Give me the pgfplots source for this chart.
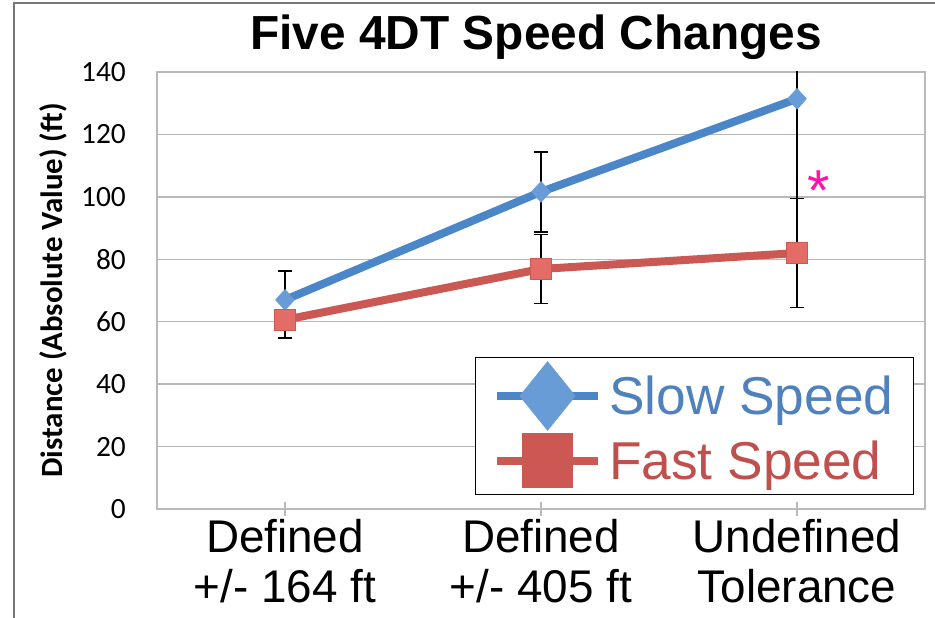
\documentclass[border=0pt]{standalone}
\usepackage{fontspec}
\setmainfont{Liberation Sans}
\newfontfamily\calibri{Carlito}
\usepackage{pgfplots}
\pgfplotsset{compat=1.18}
\definecolor{slowline}{RGB}{74,134,200}
\definecolor{slowfill}{RGB}{104,156,214}
\definecolor{slowtext}{RGB}{79,129,189}
\definecolor{fastline}{RGB}{203,88,82}
\definecolor{fastfill}{RGB}{228,108,102}
\definecolor{fasttext}{RGB}{192,80,77}
\definecolor{gridgray}{RGB}{185,185,185}
\definecolor{framegray}{RGB}{120,120,120}
\definecolor{starpink}{RGB}{255,20,170}
\begin{document}
\begin{tikzpicture}
\path[use as bounding box] (0,0) rectangle (935bp,618bp);
\draw[framegray, line width=1.2bp] (14bp,0) -- (14bp,615bp) -- (935bp,615bp);
\begin{axis}[
  at={(157bp,109bp)}, anchor=south west,
  scale only axis, width=768bp, height=437bp,
  xmin=-0.5, xmax=2.5, ymin=0, ymax=140,
  xtick={0,1,2},
  xticklabels={{Defined\\+/- 164 ft},{Defined\\+/- 405 ft},{Undefined\\Tolerance}},
  ytick={0,20,...,140},
  tick pos=left,
  axis line style={draw=gridgray, line width=1.5bp},
  ymajorgrids, grid style={draw=gridgray, line width=1.5bp},
  tick align=center, major tick length=14bp,
  xtick style={draw=gridgray, line width=1.2bp},
  ytick style={draw=none},
  /pgf/number format/assume math mode=true,
  yticklabel style={font=\calibri\fontsize{29.5}{29.5}\selectfont, inner sep=0pt, anchor=east},
  yticklabel shift=24bp,
  xticklabel style={font=\fontsize{46}{50}\selectfont, inner sep=0pt, align=center, anchor=north},
  xticklabel shift=3bp,
  ylabel={Distance (Absolute Value) (ft)},
  ylabel style={font=\calibri\bfseries\fontsize{31}{31}\selectfont, at={(axis description cs:-0.1224,0.5)}, rotate=0, anchor=base, inner sep=0pt},
  title={Five 4DT Speed Changes},
  title style={font=\bfseries\fontsize{48}{48}\selectfont, at={(axis description cs:0.5,1)}, anchor=base, yshift=17bp, xshift=-5bp, inner sep=0pt},
  clip=true,
  legend style={at={(rel axis cs:1,0)}, anchor=south east, xshift=-11bp, yshift=14bp,
    draw=black, line width=1bp, font=\fontsize{53.5}{53.5}\selectfont,
    inner xsep=18bp, inner ysep=6bp, row sep=5bp},
  legend cell align=left,
  error bars/y dir=both, error bars/y explicit,
  error bars/error bar style={black, line width=1.4bp},
  error bars/error mark options={black, line width=1.4bp, mark size=7bp, rotate=90},
]
\addplot[color=slowline, line width=8bp, mark=diamond*,
  mark options={fill=slowfill, draw=slowfill, line width=0.5bp, mark size=10.5bp, xscale=1.2},
  legend image code/.code={
    \draw[slowline, line width=8bp] (0bp,0bp) -- (101bp,0bp);
    \fill[slowfill] (50.5bp,28.5bp) -- (73.5bp,0bp) -- (50.5bp,-28.5bp) -- (27.5bp,0bp) -- cycle;
    \path (106bp,0bp);
  }]
  coordinates {(0,67) +- (0,9.3) (1,101.6) +- (0,12.8) (2,131.4) +- (0,50)};
\addlegendentry{\textcolor{slowtext}{Slow Speed}}
\addplot[color=fastline, line width=8bp, mark=square*,
  mark options={fill=fastfill, draw=fastline, line width=0.8bp, mark size=10.5bp},
  legend image code/.code={
    \draw[fastline, line width=8bp] (0bp,0bp) -- (101bp,0bp);
    \fill[fastline] (29bp,-23.5bp) rectangle (72bp,23.5bp);
    \path (106bp,0bp);
  }]
  coordinates {(0,60.6) +- (0,5.8) (1,76.9) +- (0,11) (2,82) +- (0,17.5)};
\addlegendentry{\textcolor{fasttext}{Fast Speed}}
\node[starpink, font=\fontsize{58}{58}\selectfont, anchor=base, inner sep=0pt] at (axis cs:2.085,95.6) {*};
\end{axis}
\end{tikzpicture}
\end{document}
